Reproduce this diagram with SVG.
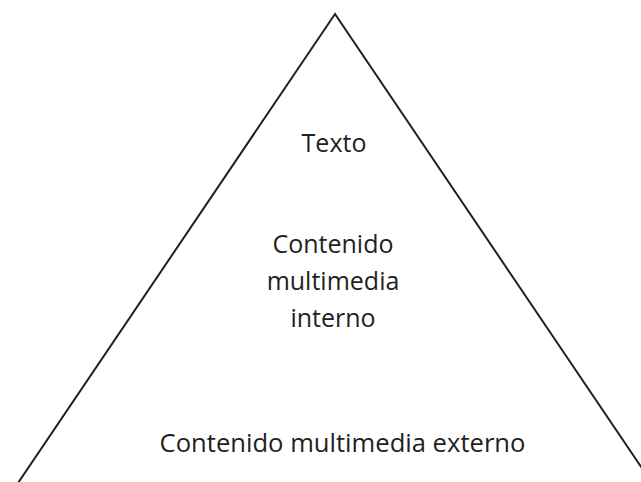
<svg xmlns="http://www.w3.org/2000/svg" width="641" height="482" viewBox="0 0 641 482">
<style>
.lbl{font-family:"Open Sans","Liberation Sans",sans-serif;font-size:25px;fill:#231f20;text-anchor:middle}
.edge{fill:none;stroke:#231f20;stroke-width:2}
</style>
<rect width="641" height="482" fill="#ffffff"/>
<g id="connectors">
<polyline class="edge" points="18,483 335,14 652,483"/>
</g>
<g id="texto"><text class="lbl" x="334" y="152">Texto</text></g>
<g id="interno"><text class="lbl" x="333" y="253">Contenido</text><text class="lbl" x="333" y="290">multimedia</text><text class="lbl" x="333" y="327">interno</text></g>
<g id="externo"><text class="lbl" x="342.5" y="452" style="font-size:25.6px">Contenido multimedia externo</text></g>
</svg>
